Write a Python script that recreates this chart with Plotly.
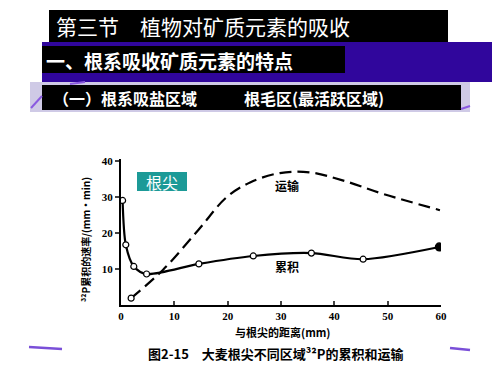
import plotly.graph_objects as go

# ---- data ----
accum_x = [0.3, 0.9, 2.4, 4.8, 14.6, 24.8, 35.7, 45.4, 59.7]
accum_y = [29.0, 16.7, 10.7, 8.6, 11.4, 13.6, 14.4, 12.7, 16.1]
trans_x = [1.9, 7.9, 14.5, 19.8, 24.2, 29.8, 35.4, 41.7, 49.2, 59.8]
trans_y = [1.9, 9.8, 20.8, 29.9, 34.0, 36.6, 36.8, 34.5, 30.8, 26.3]
x_ticks = [0, 10, 20, 30, 40, 50, 60]
y_ticks = [10, 20, 30, 40]

title1 = "第三节　植物对矿质元素的吸收"
title2 = "一、根系吸收矿质元素的特点"
title3a = "（一）根系吸盐区域"
title3b = "根毛区(最活跃区域)"
tip_label = "根尖"
label_trans = "运输"
label_accum = "累积"
x_title = "与根尖的距离(mm)"
y_title = "³²P累积的速率/(mm·min)"
caption = "图2-15　大麦根尖不同区域³²P的累积和运输"

OFF = 8  # page body margin
W, H = 500 - OFF, 375 - OFF
L, T = 121 - OFF, 159 - OFF
PW, PH = 320, 146
R, B = W - L - PW, H - T - PH


def px(x):
    return (x - OFF - L) / PW


def py(y):
    return (T + PH - (y - OFF)) / PH


CJK = "Noto Sans CJK SC"
SERIF = "Liberation Serif"

fig = go.Figure()

fig.add_trace(go.Scatter(
    x=trans_x, y=trans_y, mode="lines+markers",
    line=dict(color="black", width=2.2, dash="12px,6px", shape="spline", smoothing=1.0),
    marker=dict(size=[6] + [0] * (len(trans_x) - 1), color="white", opacity=1,
                line=dict(color="black", width=1.2)),
    showlegend=False, hoverinfo="skip"))

fig.add_trace(go.Scatter(
    x=accum_x, y=accum_y, mode="lines+markers",
    line=dict(color="black", width=2.2, shape="spline", smoothing=0.8),
    marker=dict(size=[6] * (len(accum_x) - 1) + [8], opacity=1,
                color=["white"] * (len(accum_x) - 1) + ["black"],
                line=dict(color="black", width=1.2)),
    showlegend=False, hoverinfo="skip"))

shapes = []


def rect(x0, y0, x1, y1, color):
    shapes.append(dict(type="rect", xref="paper", yref="paper",
                       x0=px(x0), x1=px(x1), y0=py(y1), y1=py(y0),
                       fillcolor=color, line=dict(width=0), layer="below"))


def seg(x0, y0, x1, y1, color, w):
    shapes.append(dict(type="line", xref="paper", yref="paper",
                       x0=px(x0), x1=px(x1), y0=py(y0), y1=py(y1),
                       line=dict(color=color, width=w)))


rect(49, 10, 448, 42, "black")
rect(42, 42, 508, 82, "#30069c")
rect(42, 46, 345, 73, "black")
rect(30, 82, 470, 112, "#cfcae6")
rect(42, 85, 461, 110, "black")
rect(137, 172, 187, 191, "#1c9a97")
seg(29, 347, 62, 349, "#7a4fd8", 2.5)
seg(450, 348, 470, 350, "#7a4fd8", 2.5)
# purple swoosh accents on the lavender band
seg(31, 108, 42, 96, "#8a5ae0", 2)
seg(70, 84, 85, 82, "#8a5ae0", 2)
seg(461, 109, 470, 106, "#8a5ae0", 2)

ann = []


def text(x, y, s, size, color="black", xanchor="left", font=CJK, weight="normal", angle=0):
    ann.append(dict(x=px(x), y=py(y), xref="paper", yref="paper", text=s,
                    showarrow=False, xanchor=xanchor, yanchor="middle",
                    textangle=angle,
                    font=dict(family=font, size=size, color=color, weight=weight)))


text(54, 26, title1, 21, "white")
text(44, 60, title2, 19, "white", weight="bold")
text(51, 98, title3a, 16, "white", weight="bold")
text(242, 98, title3b, 16, "white", weight="bold")
text(162, 182, tip_label, 16, "white", xanchor="center")
text(287, 185, label_trans, 12, xanchor="center", weight="bold")
text(287, 266, label_accum, 12, xanchor="center", weight="bold")
text(283, 332, x_title, 11, xanchor="center", weight="bold")
text(276, 353, caption, 13, xanchor="center", weight="bold")
text(85, 240, y_title, 10, xanchor="center", weight="bold", angle=-90)

fig.update_layout(
    width=W, height=H, margin=dict(l=L, r=R, t=T, b=B),
    paper_bgcolor="white", plot_bgcolor="white",
    shapes=shapes, annotations=ann,
    xaxis=dict(range=[0, 60], tickvals=x_ticks, ticks="inside", ticklen=4, tickwidth=2,
               showline=True, linecolor="black", linewidth=2, showgrid=False, zeroline=False,
               tickfont=dict(family=SERIF, size=11, color="black", weight="bold")),
    yaxis=dict(range=[0, 40.5], tickvals=y_ticks, ticks="outside", ticklen=4, tickwidth=2,
               showline=True, linecolor="black", linewidth=2, showgrid=False, zeroline=False,
               tickfont=dict(family=SERIF, size=11, color="black", weight="bold")),
)

fig.write_html("out.html")
